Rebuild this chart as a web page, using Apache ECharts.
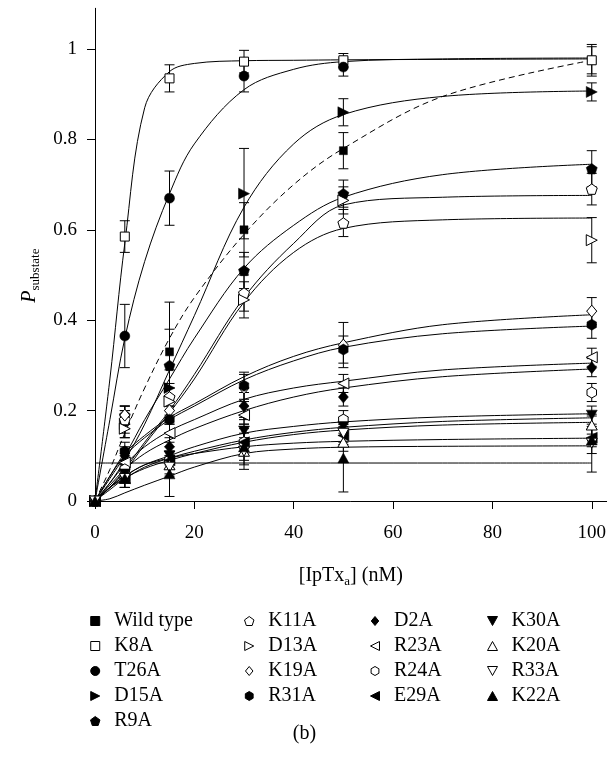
<!DOCTYPE html>
<html><head><meta charset="utf-8">
<script src="https://cdn.jsdelivr.net/npm/echarts@6/dist/echarts.min.js"></script>
<style>html,body{margin:0;padding:0;background:#fff}#c{width:609px;height:757px}</style>
</head><body><div id="c"></div>
<script>
// ---- data ----
const concentrations = [0, 6, 15, 30, 50, 100];
const fitX = [0, 3, 6, 10, 15, 20, 30, 40, 50, 70, 100];
const xTickValues = [0, 20, 40, 60, 80, 100];
const yTickValues = [0, 0.2, 0.4, 0.6, 0.8, 1];

const wildTypeY   = [0, 0.18, 0.33, 0.60, 0.775, 0.975];
const wildTypeErr = [0, 0.03, 0.11, 0.06, 0.04, 0.03];
const wildTypeFit = [0, 0.07, 0.15, 0.25, 0.36, 0.45, 0.59, 0.70, 0.78, 0.895, 0.975];

const k8aY   = [0, 0.585, 0.935, 0.972, 0.975, 0.975];
const k8aErr = [0, 0.035, 0.03, 0.025, 0.015, 0.035];
const k8aFit = [0, 0.27, 0.57, 0.87, 0.95, 0.968, 0.974, 0.975, 0.976, 0.977, 0.978];

const t26aY   = [0, 0.365, 0.67, 0.94, 0.96, null];
const t26aErr = [0, 0.07, 0.06, 0.035, 0.02, 0];
const t26aFit = [0, 0.18, 0.36, 0.53, 0.68, 0.79, 0.91, 0.955, 0.972, 0.978, 0.98];

const d15aY   = [0, 0.17, 0.25, 0.68, 0.86, 0.905];
const d15aErr = [0, 0.03, 0.04, 0.10, 0.03, 0.02];
const d15aFit = [0, 0.04, 0.09, 0.17, 0.29, 0.41, 0.65, 0.79, 0.855, 0.895, 0.907];

const r9aY   = [0, 0.19, 0.30, 0.51, 0.68, 0.735];
const r9aErr = [0, 0.02, 0.08, 0.04, 0.03, 0.04];
const r9aFit = [0, 0.05, 0.10, 0.18, 0.27, 0.36, 0.515, 0.61, 0.672, 0.722, 0.745];

const k11aY   = [0, 0.18, 0.23, 0.46, 0.615, 0.69];
const k11aErr = [0, 0.02, 0.03, 0.04, 0.03, 0.035];
const k11aFit = [0, 0.03, 0.07, 0.13, 0.20, 0.28, 0.45, 0.57, 0.655, 0.672, 0.676];

const d13aY   = [0, 0.16, 0.22, 0.445, 0.665, 0.577];
const d13aErr = [0, 0.02, 0.03, 0.04, 0.03, 0.05];
const d13aFit = [0, 0.03, 0.065, 0.125, 0.195, 0.27, 0.44, 0.55, 0.603, 0.622, 0.626];

const k19aY   = [0, 0.19, 0.20, 0.25, 0.345, 0.42];
const k19aErr = [0, 0.02, 0.03, 0.03, 0.05, 0.03];
const k19aFit = [0, 0.055, 0.105, 0.145, 0.185, 0.215, 0.275, 0.32, 0.35, 0.39, 0.412];

const r31aY   = [0, 0.11, 0.18, 0.255, 0.335, 0.39];
const r31aErr = [0, 0.02, 0.03, 0.03, 0.03, 0.03];
const r31aFit = [0, 0.055, 0.10, 0.14, 0.18, 0.21, 0.268, 0.31, 0.34, 0.37, 0.387];

const d2aY   = [0, 0.10, 0.12, 0.21, 0.23, 0.295];
const d2aErr = [0, 0.02, 0.02, 0.03, 0.02, 0.02];
const d2aFit = [0, 0.035, 0.07, 0.105, 0.135, 0.16, 0.20, 0.23, 0.25, 0.275, 0.292];

const r23aY   = [0, 0.085, 0.15, 0.19, 0.26, 0.318];
const r23aErr = [0, 0.02, 0.02, 0.02, 0.02, 0.02];
const r23aFit = [0, 0.04, 0.08, 0.12, 0.155, 0.18, 0.225, 0.25, 0.265, 0.29, 0.305];

const r24aY   = [0, 0.07, 0.09, 0.13, 0.18, 0.24];
const r24aErr = [0, 0.02, 0.02, 0.03, 0.02, 0.02];
const r24aFit = [0, 0.03, 0.05, 0.075, 0.095, 0.11, 0.135, 0.152, 0.163, 0.176, 0.184];

const e29aY   = [0, 0.05, 0.09, 0.13, 0.145, 0.14];
const e29aErr = [0, 0.02, 0.02, 0.02, 0.02, 0.02];
const e29aFit = [0, 0.03, 0.055, 0.08, 0.095, 0.105, 0.12, 0.128, 0.132, 0.136, 0.139];

const k30aY   = [0, 0.06, 0.10, 0.155, 0.165, 0.19];
const k30aErr = [0, 0.02, 0.02, 0.03, 0.02, 0.02];
const k30aFit = [0, 0.03, 0.055, 0.08, 0.10, 0.12, 0.15, 0.165, 0.175, 0.186, 0.193];

const k20aY   = [0, 0.05, 0.08, 0.11, 0.13, 0.168];
const k20aErr = [0, 0.02, 0.02, 0.02, 0.02, 0.02];
const k20aFit = [0, 0.025, 0.05, 0.072, 0.09, 0.105, 0.13, 0.147, 0.157, 0.168, 0.174];

const r33aY   = [0, 0.05, 0.075, 0.11, 0.15, 0.128];
const r33aErr = [0, 0.02, 0.02, 0.03, 0.02, 0.064];
const r33aFit = [0, 0.005, 0.018, 0.035, 0.055, 0.075, 0.105, 0.115, 0.119, 0.121, 0.122];

const k22aY   = [0, 0.05, 0.06, 0.12, 0.095, 0.135];
const k22aErr = [0, 0.02, 0.05, 0.05, 0.075, 0.03];
const k22aFit = [0.084, 0.084, 0.084, 0.084, 0.084, 0.084, 0.084, 0.084, 0.084, 0.084, 0.084];

// ---- styling ----
const FONT = 'Liberation Serif';
const P_SQ    = 'path://M0,0 L10,0 L10,10 L0,10 Z';
const P_DIA   = 'path://M5,0 L10,6 L5,12 L0,6 Z';
const P_RIGHT = 'path://M0,0 L10,5 L0,10 Z';
const P_LEFT  = 'path://M10,0 L0,5 L10,10 Z';
const P_DOWN  = 'path://M0,0 L10,0 L5,9 Z';
const P_UP    = 'path://M5,0 L10,9 L0,9 Z';
const P_PENT  = 'path://M10,0 L19.51,6.91 L15.88,18.09 L4.12,18.09 L0.49,6.91 Z';
const P_HEX   = 'path://M10,0 L18.66,5 L18.66,15 L10,20 L1.34,15 L1.34,5 Z';

const specs = [
  {name:'Wild type', y:wildTypeY, err:wildTypeErr, fit:wildTypeFit, sym:P_SQ, size:8, filled:true, dashed:true},
  {name:'K8A',  y:k8aY,  err:k8aErr,  fit:k8aFit,  sym:P_SQ,    size:9,  filled:false},
  {name:'T26A', y:t26aY, err:t26aErr, fit:t26aFit, sym:'circle',size:10, filled:true},
  {name:'D15A', y:d15aY, err:d15aErr, fit:d15aFit, sym:P_RIGHT, size:11, filled:true},
  {name:'R9A',  y:r9aY,  err:r9aErr,  fit:r9aFit,  sym:P_PENT,  size:11, filled:true},
  {name:'K11A', y:k11aY, err:k11aErr, fit:k11aFit, sym:P_PENT,  size:11, filled:false},
  {name:'D13A', y:d13aY, err:d13aErr, fit:d13aFit, sym:P_RIGHT, size:11, filled:false},
  {name:'K19A', y:k19aY, err:k19aErr, fit:k19aFit, sym:P_DIA,   size:12, filled:false},
  {name:'R31A', y:r31aY, err:r31aErr, fit:r31aFit, sym:P_HEX,   size:11, filled:true},
  {name:'D2A',  y:d2aY,  err:d2aErr,  fit:d2aFit,  sym:P_DIA,   size:12, filled:true},
  {name:'R23A', y:r23aY, err:r23aErr, fit:r23aFit, sym:P_LEFT,  size:11, filled:false},
  {name:'R24A', y:r24aY, err:r24aErr, fit:r24aFit, sym:P_HEX,   size:11, filled:false},
  {name:'E29A', y:e29aY, err:e29aErr, fit:e29aFit, sym:P_LEFT,  size:11, filled:true},
  {name:'K30A', y:k30aY, err:k30aErr, fit:k30aFit, sym:P_DOWN,  size:11, filled:true},
  {name:'K20A', y:k20aY, err:k20aErr, fit:k20aFit, sym:P_UP,    size:11, filled:false},
  {name:'R33A', y:r33aY, err:r33aErr, fit:r33aFit, sym:P_DOWN,  size:11, filled:false},
  {name:'K22A', y:k22aY, err:k22aErr, fit:k22aFit, sym:P_UP,    size:11, filled:true}
];

const series = [];
// fitted curves
specs.forEach(s => {
  series.push({
    type:'line', name:s.name + ' fit', silent:true, symbol:'none',
    smooth:0.35, z:1,
    data: fitX.map((x,i)=>[x, s.fit[i]]),
    lineStyle:{color:'#000', width:1, type: s.dashed ? [6,4] : 'solid'}
  });
});
// error bars
specs.forEach(s => {
  series.push({
    type:'custom', silent:true, z:2,
    data: concentrations.map((x,i)=>[x, s.y[i], s.err[i]]).filter(d=>d[1]!=null && d[2]>0),
    renderItem:function(params, api){
      const x = api.value(0), y = api.value(1), e = api.value(2);
      const top = api.coord([x, y + e]);
      const bot = api.coord([x, Math.max(0, y - e)]);
      const c = 5;
      const st = {stroke:'#000', lineWidth:1};
      return {type:'group', children:[
        {type:'line', shape:{x1:top[0], y1:top[1], x2:bot[0], y2:bot[1]}, style:st},
        {type:'line', shape:{x1:top[0]-c, y1:top[1], x2:top[0]+c, y2:top[1]}, style:st},
        {type:'line', shape:{x1:bot[0]-c, y1:bot[1], x2:bot[0]+c, y2:bot[1]}, style:st}
      ]};
    }
  });
});
// markers
specs.forEach(s => {
  series.push({
    type:'scatter', name:s.name, z:3,
    symbol:s.sym, symbolSize:s.size, symbolKeepAspect:true,
    data: concentrations.map((x,i)=>[x, s.y[i]]).filter(d=>d[1]!=null),
    itemStyle: s.filled ? {color:'#000', borderColor:'#000', borderWidth:0.5, opacity:1}
                        : {color:'#fff', borderColor:'#000', borderWidth:1, opacity:1}
  });
});

function legendCol(left, names){
  return {
    data:names, orient:'vertical', left:left, top:611,
    itemWidth:28, itemHeight:9, itemGap:5, selectedMode:false,
    symbolKeepAspect:true, padding:0,
    itemStyle:{borderWidth:1},
    textStyle:{fontFamily:FONT, fontSize:20, color:'#000', lineHeight:18.5}
  };
}

const chart = echarts.init(document.getElementById('c'), null, {renderer:'canvas'});
chart.setOption({
  animation:false,
  backgroundColor:'#fff',
  grid:{left:95, top:8.3, width:513, height:492.7, containLabel:false},
  xAxis:{
    type:'value', min:0, max:103,
    axisLine:{show:true, lineStyle:{color:'#000', width:1}},
    axisTick:{show:true, length:8, lineStyle:{color:'#000'}, customValues:xTickValues},
    axisLabel:{fontFamily:FONT, fontSize:19, color:'#000', margin:23, customValues:xTickValues},
    splitLine:{show:false},
    name:'[IpTx{s|a}] (nM)', nameLocation:'middle', nameGap:62,
    nameTextStyle:{fontFamily:FONT, fontSize:20, color:'#000',
      rich:{s:{fontFamily:FONT, fontSize:13, color:'#000', verticalAlign:'bottom', padding:[12,0,0,0]}}}
  },
  yAxis:{
    type:'value', min:0, max:1.09,
    axisLine:{show:true, lineStyle:{color:'#000', width:1}},
    axisTick:{show:true, length:8, lineStyle:{color:'#000'}, customValues:yTickValues},
    axisLabel:{fontFamily:FONT, fontSize:19, color:'#000', margin:18, customValues:yTickValues},
    splitLine:{show:false},
    name:'{p|P}{s|substate}', nameLocation:'middle', nameGap:52, nameRotate:90,
    nameTextStyle:{fontFamily:FONT, fontSize:20, color:'#000', padding:[0,42,0,0],
      rich:{p:{fontFamily:FONT, fontSize:20, fontStyle:'italic', color:'#000'},
            s:{fontFamily:FONT, fontSize:13, color:'#000', padding:[12,0,0,0]}}}
  },
  legend:[
    legendCol(90,  ['Wild type','K8A','T26A','D15A','R9A']),
    legendCol(244, ['K11A','D13A','K19A','R31A']),
    legendCol(370, ['D2A','R23A','R24A','E29A']),
    legendCol(487, ['K30A','K20A','R33A','K22A'])
  ],
  graphic:[{type:'text', left:'center', top:724,
    style:{text:'(b)', fontFamily:FONT, fontSize:20, fill:'#000'}}],
  series:series
});
</script></body></html>
